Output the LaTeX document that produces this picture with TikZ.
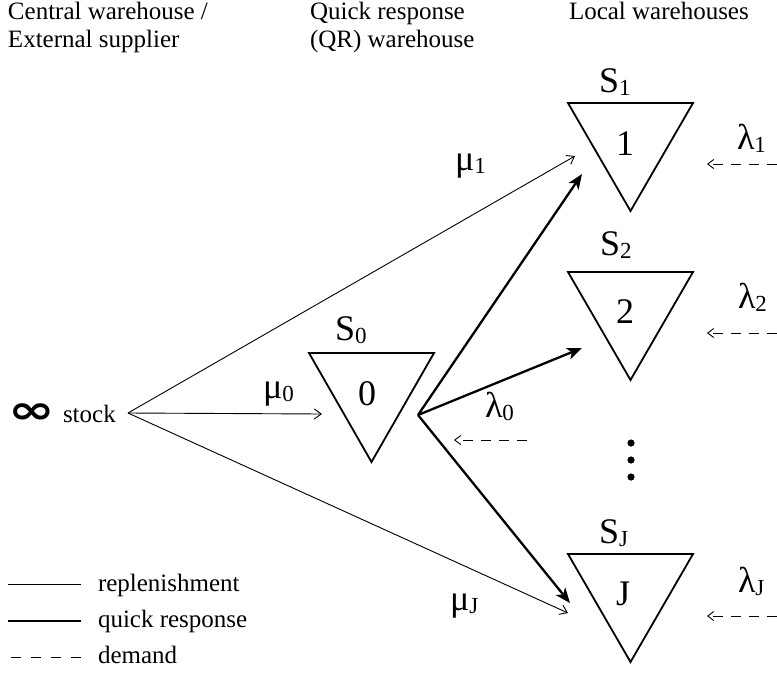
\documentclass[tikz,border=0pt]{standalone}
\usepackage{fontspec}
\setmainfont{Liberation Serif}
\newfontfamily\symfont{DejaVu Sans}
\usetikzlibrary{arrows.meta}
% symbol with a lowered subscript, e.g. S_1, \lambda_2
\newcommand\qsym[2]{{\fontsize{36}{36}\selectfont #1}\raisebox{-3pt}{\fontsize{23}{23}\selectfont #2}}
\tikzset{
  every node/.style={inner sep=0pt, outer sep=0pt},
  txt/.style={font=\fontsize{25}{29}\selectfont, anchor=base west},
  lbl/.style={anchor=base west},
  num/.style={font=\fontsize{36}{36}\selectfont, anchor=base},
  tri/.style={line width=1.8pt, line join=miter},
  repl/.style={line width=0.9pt},
  replarrow/.style={repl, -{Straight Barb[length=7pt,width=10pt,line width=0.9pt]}},
  quick/.style={line width=2.3pt},
  quickarrow/.style={quick, -{Stealth[length=15pt,width=12pt,inset=4pt]}},
  dem/.style={line width=0.9pt, dash pattern=on 10pt off 8pt},
  demarrow/.style={dem, -{Straight Barb[length=6pt,width=9pt,line width=0.9pt]}},
}
\begin{document}
\begin{tikzpicture}[x=1pt,y=-1pt]
\useasboundingbox (0,0) rectangle (777,673);

% column headings
\node[txt] (h1a) at (8,19) {Central warehouse /};
\node[txt] (h1b) at (8,47) {External supplier};
\node[txt] (h2a) at (310,19) {Quick response};
\node[txt] (h2b) at (310,47) {(QR) warehouse};
\node[txt] (h3a) at (569,19) {Local warehouses};

% external supplier with infinite stock
\node[font=\symfont\bfseries\fontsize{56}{56}\selectfont, yscale=0.7] (inf) at (32,414) {∞};
\node[txt] (stock) at (63,422) {stock};
\coordinate (src) at (128,413);

% stock points
\draw[tri] (309,353) coordinate (t0) -- ++(125,0) -- ++(-62.5,109) -- cycle;
\draw[tri] (568,103) coordinate (t1) -- ++(125,0) -- ++(-62.5,108) -- cycle;
\draw[tri] (568,272) coordinate (t2) -- ++(125,0) -- ++(-62.5,108) -- cycle;
\draw[tri] (568,554) coordinate (tJ) -- ++(125,0) -- ++(-62.5,108) -- cycle;

\node[num] (n0) at (367,405) {0};
\node[num] (n1) at (625,155) {1};
\node[num] (n2) at (625,323) {2};
\node[num] (nJ) at (623,605) {J};

\node[lbl] (s0) at (335,340) {\qsym{S}{0}};
\node[lbl] (s1) at (599,92) {\qsym{S}{1}};
\node[lbl] (s2) at (600,255) {\qsym{S}{2}};
\node[lbl] (sJ) at (599,543) {\qsym{S}{J}};

% vertical ellipsis between local warehouses
\foreach \yy [count=\k] in {443,460,477}
  \fill (631,\yy) circle (3.6pt) coordinate (dot\k);

% replenishment flows from the supplier
\coordinate (in0) at (322,414);
\coordinate (in1) at (575,156);
\coordinate (inJ) at (568,613);
\draw[replarrow] (src) -- (in0);
\draw[replarrow] (src) -- (in1);
\draw[replarrow] (src) -- (inJ);
\node[lbl] (mu0) at (263,398) {\qsym{μ}{0}};
\node[lbl] (mu1) at (455,170) {\qsym{μ}{1}};
\node[lbl] (muJ) at (450,610) {\qsym{μ}{J}};

% quick response flows from the QR warehouse
\coordinate (qr) at (418,415);
\coordinate (q1) at (582,174);
\coordinate (q2) at (582,348);
\coordinate (qJ) at (570,603);
\draw[quickarrow] (qr) -- (q1);
\draw[quickarrow] (qr) -- (q2);
\draw[quickarrow] (qr) -- (qJ);

% demand streams
\coordinate (d0s) at (527,440); \coordinate (d0e) at (454,440);
\coordinate (d1s) at (777,164); \coordinate (d1e) at (707,164);
\coordinate (d2s) at (777,333); \coordinate (d2e) at (707,333);
\coordinate (dJs) at (777,616); \coordinate (dJe) at (707,616);
\draw[demarrow] (d0s) -- (d0e);
\draw[demarrow] (d1s) -- (d1e);
\draw[demarrow] (d2s) -- (d2e);
\draw[demarrow] (dJs) -- (dJe);
\node[lbl] (la0) at (485,417) {\qsym{λ}{0}};
\node[lbl] (la1) at (737,149) {\qsym{λ}{1}};
\node[lbl] (la2) at (738,308) {\qsym{λ}{2}};
\node[lbl] (laJ) at (738,592) {\qsym{λ}{J}};

% legend
\coordinate (l1a) at (8,584);  \coordinate (l1b) at (81,584);
\coordinate (l2a) at (8,621);  \coordinate (l2b) at (81,621);
\coordinate (l3a) at (11,657); \coordinate (l3b) at (81,657);
\draw[repl] (l1a) -- (l1b);
\draw[quick] (l2a) -- (l2b);
\draw[line width=0.9pt, dash pattern=on 10pt off 10pt] (l3a) -- (l3b);
\node[txt] (k1) at (98,591) {replenishment};
\node[txt] (k2) at (98,627) {quick response};
\node[txt] (k3) at (98,663) {demand};
\end{tikzpicture}
\end{document}
